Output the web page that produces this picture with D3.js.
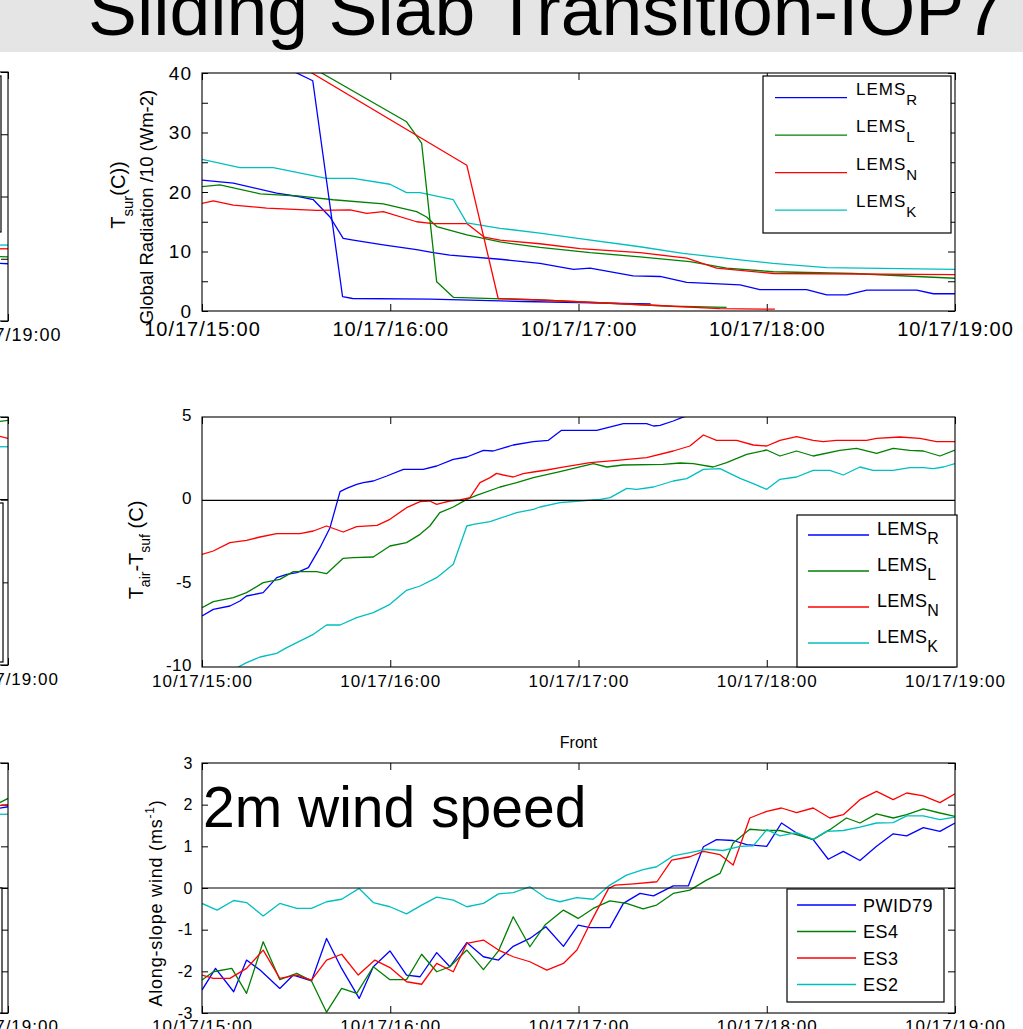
<!DOCTYPE html>
<html><head><meta charset="utf-8">
<script src="https://cdn.jsdelivr.net/npm/d3@7/dist/d3.min.js"></script>
<style>
html,body{margin:0;padding:0;background:#fff;}
svg{display:block;}
text{white-space:pre;}
</style></head>
<body>
<svg id="chart" width="1023" height="1029"></svg>
<script>
// ================= DATA =================
const titleText = "Sliding Slab Transition-IOP7";
const bigNote = "2m wind speed";
const frontTitle = "Front";
const timeTickFormat = "%m/%d/%H:%M";
const seriesColors = ["#0000ff", "#008000", "#ff0000", "#00bfbf"];
const lemsSubs = ["R", "L", "N", "K"];
const windNames = ["PWID79", "ES4", "ES3", "ES2"];
const tsurTicks = [0, 5, 10, 15, 20, 25, 30, 35, 40];
const diffTicks = [-10, -5, 0, 5];
const windTicks = [-3, -2, -1, 0, 1, 2, 3];
const leftTopTicks = [0, 10, 20, 30, 40];

// [minutes after 10/17 15:00, value]
// Panel 1: surface temperature (C)
const tsurR = [[0,22.0],[10,21.5],[23.8,19.8],[31.2,19.2],[35.5,18.7],[40.8,15.8],[45,12.2],[48.2,11.9],[57.8,11.1],[68.4,10.3],[73.7,9.8],[79,9.4],[95,8.7],[107.7,8.0],[118.4,7.0],[123.7,7.2],[137.4,5.9],[146,5.8],[154.5,4.8],[171.5,4.4],[177.8,3.6],[192.7,3.6],[199.1,2.7],[205.5,2.7],[211.9,3.5],[227.8,3.5],[233.1,2.9],[240,2.9]];
const tsurL = [[0,20.9],[5.7,21.2],[18.5,19.7],[31.2,19.3],[41.8,18.7],[57.8,18.0],[68.4,16.7],[71.6,15.8],[74.8,14.2],[84.4,12.8],[95,11.6],[107.7,10.7],[123.7,9.8],[139.6,9.1],[155.5,8.3],[167.2,7.2],[182.1,6.6],[207.6,6.3],[227.8,5.8],[240,5.5]];
const tsurN = [[0,18.1],[3.6,18.5],[10,17.8],[20.6,17.3],[36.6,16.9],[47.2,17.0],[52.5,16.4],[57.8,16.7],[68.4,15.0],[73.7,14.7],[84.4,14.7],[90,12.4],[95,11.9],[107.7,11.3],[120.5,10.5],[139.6,9.8],[154.5,8.9],[164,7.2],[182.1,6.3],[240,6.1]];
const tsurK = [[0,25.5],[12.1,24.1],[22.7,24.1],[39.7,22.3],[48.2,22.3],[59.9,21.3],[65.2,19.9],[69.5,19.9],[80.1,18.7],[84.4,14.8],[95,13.9],[107.7,13.1],[119.8,12.2],[139.6,10.8],[153.3,9.7],[171.5,8.6],[182,8.0],[199.1,7.3],[240,7.0]];
// Panel 1: global radiation / 10 (W m-2)
const radR = [[0,47.7],[35.3,38.7],[44.8,2.4],[48,2.1],[72.7,2.0],[102.4,1.6],[120,1.4],[143,1.2]];
const radL = [[0,51.5],[38.1,40],[65.2,31.8],[70,28.2],[74.8,4.9],[80.1,2.3],[107.7,1.85],[130,1.3],[150,0.8],[167.2,0.6]];
const radN = [[0,51],[35,40],[84.4,24.5],[94.4,2.1],[107.7,1.85],[130,1.3],[150,0.8],[165,0.4],[182.6,0.3]];

// Panel 2: T_air - T_suf (C)
const diffR = [[0,-6.94],[3.6,-6.54],[8.9,-6.34],[12.1,-6.04],[14.2,-5.74],[19.5,-5.54],[23.8,-4.64],[27,-4.44],[30.2,-4.34],[33.9,-4.04],[37.6,-2.84],[40.8,-1.64],[44,0.52],[46.1,0.72],[49.3,0.96],[51.4,1.06],[54.6,1.16],[58.9,1.46],[64.2,1.86],[70.5,1.86],[74.8,2.06],[80.1,2.46],[84.4,2.6],[89.7,3.0],[92.8,2.96],[99.2,3.32],[105.6,3.52],[110.4,3.6],[114.6,4.2],[125.8,4.2],[134.3,4.6],[141.7,4.6],[143.9,4.46],[146,4.5],[150.2,4.76],[152.9,4.96],[160,5.4],[200,6.0],[240,6.5]];
const diffL = [[0,-6.44],[3.6,-6.08],[10,-5.84],[14.2,-5.54],[19.5,-4.94],[24.8,-4.74],[29.1,-4.28],[36.5,-4.28],[39.7,-4.4],[45,-3.48],[48.2,-3.44],[54.6,-3.4],[59.9,-2.74],[65.2,-2.54],[69.5,-2.04],[72.6,-1.54],[75.8,-0.74],[80.1,-0.4],[84.4,0.06],[87.5,0.3],[95,0.8],[100.3,1.06],[105.6,1.36],[114.1,1.72],[119.4,1.96],[124.7,2.2],[129,2.0],[134.2,2.12],[147,2.16],[152.3,2.24],[156.6,2.2],[162.9,2.0],[167.2,2.26],[173.6,2.76],[180,3.02],[184.2,2.66],[189.5,2.96],[194.8,2.66],[203.3,3.0],[208.6,3.12],[215,2.82],[220.3,3.12],[225.6,3.0],[229.9,2.96],[235.2,2.66],[240,3.02]];
const diffN = [[0,-3.24],[3.6,-3.04],[8.9,-2.54],[14.2,-2.4],[18.5,-2.2],[23.8,-2.0],[31.2,-2.0],[35.5,-1.84],[39.7,-1.54],[45,-1.9],[49.3,-1.58],[55.8,-1.5],[59.9,-1.14],[65.2,-0.44],[69.5,-0.08],[72.6,-0.04],[74.8,-0.24],[76.9,-0.14],[79,-0.04],[82.2,0.02],[85.4,0.16],[88.6,1.06],[91.8,1.36],[93.9,1.62],[96,1.52],[99.2,1.4],[102.4,1.6],[105.6,1.7],[109.9,1.82],[114.1,1.96],[123.7,2.26],[132.2,2.4],[141.7,2.56],[150.2,2.96],[155.5,3.26],[159.8,3.92],[164,3.6],[170.4,3.6],[175.7,3.32],[180,3.26],[184.2,3.6],[189.5,3.82],[194.8,3.6],[198,3.52],[202.2,3.6],[211.8,3.6],[215,3.72],[222.4,3.8],[228.8,3.72],[234.1,3.52],[240,3.52]];
const diffK = [[0,-11.2],[11.2,-10.04],[14.2,-9.74],[18.5,-9.4],[23.8,-9.18],[27,-8.84],[35.5,-8.04],[39.7,-7.48],[44,-7.48],[49.3,-7.04],[54.6,-6.74],[59.9,-6.24],[65.2,-5.4],[69.5,-5.14],[74.8,-4.64],[80.1,-3.84],[84.4,-1.54],[86.5,-1.44],[91.8,-1.28],[100.3,-0.74],[105.6,-0.54],[107.7,-0.4],[114.1,-0.14],[120.5,-0.04],[126.9,0.06],[130.1,0.16],[135.4,0.72],[138.6,0.66],[143.9,0.8],[150.2,1.16],[154.5,1.3],[159.8,1.86],[165.1,1.9],[171.5,1.32],[175.7,1.0],[180,0.66],[184.2,1.26],[189.5,1.4],[194.8,1.8],[200.1,1.8],[204.4,1.52],[209.7,2.0],[213.9,1.8],[220.3,1.8],[225.6,1.96],[229.9,1.96],[233.1,1.9],[236.3,2.0],[240,2.2]];

// Panel 3: along-slope wind (m s-1)
const windPWID79 = [[0,-2.45],[4.3,-1.93],[10.1,-2.49],[14.2,-1.73],[18.5,-1.97],[24.8,-2.41],[29.1,-2.09],[34.9,-2.23],[39.7,-1.21],[44.5,-1.93],[50.1,-2.65],[54.6,-1.89],[59.9,-1.51],[65.2,-2.09],[69.5,-2.13],[74.8,-1.55],[79,-1.89],[84.4,-1.31],[89.7,-1.65],[94.5,-1.73],[99.2,-1.4],[104.5,-1.21],[109.6,-0.93],[115.2,-1.4],[119.9,-0.89],[123.7,-0.95],[130,-0.95],[134.3,-0.37],[139.6,-0.13],[143.9,-0.19],[150.2,0.05],[155,0.05],[159.8,0.99],[164,1.16],[169.3,1.14],[173.6,1.04],[180,1.0],[184.7,1.56],[189.5,1.32],[194.8,1.16],[199.6,0.69],[204.4,0.88],[209.7,0.66],[215,1.0],[220.3,1.3],[224.6,1.25],[229.9,1.45],[235.2,1.36],[240,1.56]];
const windES4 = [[0,-2.21],[3.6,-2.01],[9.5,-1.93],[14.2,-2.53],[19.5,-1.29],[24.8,-2.2],[30.2,-2.05],[34.9,-2.23],[39.7,-2.98],[44.5,-2.41],[49.3,-2.53],[54.6,-1.89],[59.9,-2.2],[65.2,-2.2],[70,-1.59],[74.8,-2.01],[79,-1.89],[84.4,-1.49],[89.7,-1.96],[94.5,-1.51],[99.2,-0.69],[104.5,-1.41],[109.3,-0.89],[115.2,-0.53],[119.9,-0.73],[124.7,-0.49],[130,-0.31],[135.3,-0.37],[140.6,-0.5],[144.9,-0.41],[150.2,-0.13],[155.5,-0.05],[160.8,0.19],[165.1,0.35],[169.3,1.08],[174.6,1.41],[180,1.38],[184.2,1.38],[189.5,1.28],[194.8,1.16],[200.1,1.4],[205.4,1.68],[209.7,1.56],[215,1.78],[220.3,1.68],[224.6,1.76],[229.9,1.9],[235.2,1.8],[240,1.72]];
const windES3 = [[0,-2.09],[3.6,-2.17],[8.9,-2.17],[14.2,-1.93],[19.5,-1.49],[24.8,-2.17],[30.2,-2.09],[34.9,-2.21],[39.7,-1.73],[44.5,-1.59],[49.8,-2.09],[55.1,-1.73],[59.9,-1.91],[65.2,-2.25],[70,-2.31],[74.8,-1.81],[80.1,-2.01],[84.4,-1.33],[89.7,-1.25],[94.5,-1.49],[99.2,-1.65],[104.5,-1.77],[109.9,-1.97],[115.2,-1.81],[119.5,-1.49],[123.7,-0.85],[129.6,-0.01],[131.7,0.07],[137.6,0.1],[145,0.15],[149.7,0.67],[155.5,0.75],[159.8,0.88],[165.1,0.8],[169.3,0.55],[174.6,1.68],[180,1.84],[184.7,1.92],[189.5,1.81],[194.8,1.92],[200.1,1.68],[204.4,1.76],[209.7,2.12],[215,2.32],[220.3,2.12],[224.6,2.28],[229.9,2.21],[235.2,2.05],[240,2.26]];
const windES2 = [[0,-0.37],[4.8,-0.53],[10.1,-0.3],[14.2,-0.35],[19.5,-0.67],[24.8,-0.37],[30.2,-0.49],[34.9,-0.49],[39.7,-0.33],[44.5,-0.27],[50.1,-0.01],[54.6,-0.35],[59.9,-0.45],[65.2,-0.62],[70,-0.41],[74.8,-0.22],[80.1,-0.29],[84.4,-0.45],[89.7,-0.37],[94.5,-0.14],[99.2,-0.11],[104.5,0.03],[109.9,-0.25],[114.1,-0.33],[119.4,-0.23],[124.7,-0.27],[130,0.07],[135.3,0.31],[140.6,0.44],[144.9,0.51],[150.2,0.77],[155.5,0.85],[160.8,0.93],[166.1,0.9],[171.5,1.0],[175.7,1.01],[180,1.4],[184.2,1.25],[189.5,1.33],[194.8,1.17],[199,1.36],[204.4,1.38],[209.7,1.46],[215,1.56],[220.3,1.57],[224.6,1.73],[229.9,1.73],[235.2,1.64],[240,1.7]];

// Left-hand (cropped) panels: only their last minutes are visible
const leftTopR = [[232,9.4],[240,9.2]];
const leftTopL = [[232,10.4],[240,10.3]];
const leftTopN = [[232,11.6],[240,11.6]];
const leftTopK = [[232,12.2],[240,12.2]];
const leftMidL = [[232,4.6],[240,4.8]];
const leftMidN = [[232,4.1],[240,3.7]];
const leftMidK = [[232,3.2],[240,3.2]];
const leftBotR = [[232,1.85],[240,1.95]];
const leftBotL = [[232,1.85],[240,2.15]];
const leftBotN = [[232,1.95],[240,2.0]];
const leftBotK = [[232,1.77],[240,1.77]];

// ================= DRAWING =================
const svg = d3.select("#chart");
const FONT = "'Liberation Sans', Arial, Helvetica, sans-serif";
const base = new Date(2012, 9, 17, 15, 0, 0);
const toDate = m => new Date(base.getTime() + m * 60000);
let clipCount = 0;

svg.append("rect").attr("width", 1023).attr("height", 1029).attr("fill", "#fff");

function drawPanel(o) {
  const x = d3.scaleTime().domain([toDate(0), toDate(240)]).range([o.x0, o.x1]);
  const y = d3.scaleLinear().domain(o.yDomain).range([o.y1, o.y0]);
  const g = svg.append("g");
  const cid = "clip" + (clipCount++);
  g.append("clipPath").attr("id", cid).append("rect")
    .attr("x", o.x0).attr("y", o.y0).attr("width", o.x1 - o.x0).attr("height", o.y1 - o.y0);
  const fmt = d3.timeFormat(timeTickFormat);
  const hours = d3.timeHour.every(1);
  const blank = () => "";

  const xb = g.append("g").attr("transform", `translate(0,${o.y1})`)
    .call(d3.axisBottom(x).ticks(hours).tickFormat(fmt).tickSizeInner(-7).tickSizeOuter(0).tickPadding(o.xPad));
  xb.selectAll("text").attr("font-family", FONT).attr("font-size", o.xFont)
    .attr("letter-spacing", o.xLs).attr("fill", "#000");
  g.append("g").attr("transform", `translate(0,${o.y0})`)
    .call(d3.axisTop(x).ticks(hours).tickFormat(blank).tickSizeInner(-7).tickSizeOuter(0));

  const yl = g.append("g").attr("transform", `translate(${o.x0},0)`)
    .call(d3.axisLeft(y).tickValues(o.yTicks).tickFormat(o.yFormat || (d => d))
      .tickSizeInner(-o.yTickLen).tickSizeOuter(0).tickPadding(o.yPad));
  yl.selectAll("text").attr("font-family", FONT).attr("font-size", o.yFont)
    .attr("letter-spacing", o.yLs || 0).attr("fill", "#000").attr("dy", o.yDy || "0.32em");
  if (o.yTickLen === 0) yl.selectAll(".tick line").remove();
  g.append("g").attr("transform", `translate(${o.x1},0)`)
    .call(d3.axisRight(y).tickValues(o.rightTicks).tickFormat(blank).tickSizeInner(-7).tickSizeOuter(0));
  g.selectAll(".domain").remove();
  g.selectAll(".tick line").attr("stroke", "#000");

  const line = d3.line().x(d => x(toDate(d[0]))).y(d => y(d[1]));
  const lg = g.append("g").attr("clip-path", `url(#${cid})`);
  o.series.forEach(s => {
    lg.append("path").datum(s.data).attr("d", line).attr("fill", "none")
      .attr("stroke", s.color).attr("stroke-width", 1.3).attr("stroke-linejoin", "round");
  });
  if (o.zero) {
    g.append("line").attr("x1", o.x0).attr("x2", o.x1).attr("y1", y(0)).attr("y2", y(0))
      .attr("stroke", "#000").attr("stroke-width", 1.2);
  }
  g.append("rect").attr("x", o.x0).attr("y", o.y0).attr("width", o.x1 - o.x0).attr("height", o.y1 - o.y0)
    .attr("fill", "none").attr("stroke", "#000").attr("stroke-width", 1.1);
  return { x, y, g };
}

function drawLegend(o) {
  const g = svg.append("g");
  g.append("rect").attr("x", o.x).attr("y", o.y).attr("width", o.w).attr("height", o.h)
    .attr("fill", "#fff").attr("stroke", "#000").attr("stroke-width", 1.2);
  (o.entries || []).forEach((e, i) => {
    const ly = o.firstY + i * o.step;
    g.append("line").attr("x1", o.lx0).attr("x2", o.lx1).attr("y1", ly).attr("y2", ly)
      .attr("stroke", e.color).attr("stroke-width", 1.3);
    const t = g.append("text").attr("x", o.tx).attr("y", ly + o.tdy)
      .attr("font-family", FONT).attr("font-size", o.font).attr("letter-spacing", o.ls).attr("fill", "#000");
    t.append("tspan").text(e.label);
    if (e.sub) t.append("tspan").attr("dy", o.subDy).attr("font-size", o.subFont).text(e.sub);
  });
}

// ---- title band ----
svg.append("rect").attr("x", 0).attr("y", 0).attr("width", 1023).attr("height", 52).attr("fill", "#e5e5e5");
svg.append("text").attr("x", 88).attr("y", 35).attr("font-family", FONT).attr("font-size", 73)
  .attr("textLength", 917).attr("lengthAdjust", "spacingAndGlyphs")
  .attr("fill", "#000").text(titleText);

// ---- left cropped column ----
drawPanel({ x0: -745, x1: 8, y0: 72, y1: 321, yDomain: [0, 40], yTicks: leftTopTicks, rightTicks: leftTopTicks,
  yTickLen: 7, yPad: 10, yFont: 18, xPad: 7, xFont: 18, xLs: 1,
  series: [{ data: leftTopR, color: seriesColors[0] }, { data: leftTopL, color: seriesColors[1] },
           { data: leftTopN, color: seriesColors[2] }, { data: leftTopK, color: seriesColors[3] }] });
drawLegend({ x: -190, y: 76, w: 191, h: 156 });
drawPanel({ x0: -745, x1: 8, y0: 417, y1: 665, yDomain: [-10, 5], yTicks: diffTicks, rightTicks: diffTicks,
  yTickLen: 7, yPad: 10, yFont: 17, xPad: 8, xFont: 17, xLs: 1, zero: true,
  series: [{ data: leftMidL, color: seriesColors[1] }, { data: leftMidN, color: seriesColors[2] },
           { data: leftMidK, color: seriesColors[3] }] });
drawLegend({ x: -157, y: 503, w: 160, h: 159 });
drawPanel({ x0: -745, x1: 8, y0: 763, y1: 1013, yDomain: [-3, 3], yTicks: windTicks, rightTicks: windTicks,
  yTickLen: 7, yPad: 10, yFont: 16, xPad: 7, xFont: 17, xLs: 1, zero: true,
  series: [{ data: leftBotR, color: seriesColors[0] }, { data: leftBotL, color: seriesColors[1] },
           { data: leftBotN, color: seriesColors[2] }, { data: leftBotK, color: seriesColors[3] }] });
drawLegend({ x: -155, y: 888, w: 157, h: 125 });

// ---- Panel 1 ----
drawPanel({ x0: 202, x1: 955, y0: 73, y1: 311, yDomain: [0, 40], yTicks: tsurTicks, rightTicks: tsurTicks,
  yFormat: d => (d % 10 === 0 ? d : ""), yTickLen: 6, yPad: 10, yFont: 19, yLs: 1,
  xPad: 11, xFont: 20, xLs: 1,
  series: [{ data: tsurR, color: seriesColors[0] }, { data: tsurL, color: seriesColors[1] },
           { data: tsurN, color: seriesColors[2] }, { data: tsurK, color: seriesColors[3] },
           { data: radR, color: seriesColors[0] }, { data: radL, color: seriesColors[1] },
           { data: radN, color: seriesColors[2] }] });
drawLegend({ x: 763, y: 76, w: 188, h: 157, firstY: 97.7, step: 37.5, lx0: 775, lx1: 847, tx: 856, tdy: -3,
  font: 17, ls: 1, subFont: 15, subDy: 10,
  entries: lemsSubs.map((s, i) => ({ label: "LEMS", sub: s, color: seriesColors[i] })) });

// y label panel 1 (two lines)
const yl1a = svg.append("text").attr("transform", "translate(125,195) rotate(-90)").attr("text-anchor", "middle")
  .attr("font-family", FONT).attr("font-size", 20).attr("fill", "#000");
yl1a.append("tspan").text("T");
yl1a.append("tspan").attr("dy", 8).attr("font-size", 15).text("sur");
yl1a.append("tspan").attr("dy", -8).text("(C))");
svg.append("text").attr("transform", "translate(153,207) rotate(-90)").attr("text-anchor", "middle")
  .attr("font-family", FONT).attr("font-size", 18.5).attr("fill", "#000").text("Global Radiation /10 (Wm-2)");

// ---- Panel 2 ----
drawPanel({ x0: 202, x1: 955, y0: 417, y1: 667, yDomain: [-10, 5], yTicks: diffTicks, rightTicks: [],
  yTickLen: 0, yPad: 10, yFont: 17, yLs: 0.5, yDy: "0.2em", xPad: 8, xFont: 17, xLs: 1, zero: true,
  series: [{ data: diffR, color: seriesColors[0] }, { data: diffL, color: seriesColors[1] },
           { data: diffN, color: seriesColors[2] }, { data: diffK, color: seriesColors[3] }] });
drawLegend({ x: 797, y: 515, w: 160, h: 152, firstY: 535, step: 36, lx0: 808, lx1: 869, tx: 877, tdy: 0,
  font: 18, ls: 0.3, subFont: 16, subDy: 9,
  entries: lemsSubs.map((s, i) => ({ label: "LEMS", sub: s, color: seriesColors[i] })) });
const yl2 = svg.append("text").attr("transform", "translate(143,550) rotate(-90)").attr("text-anchor", "middle")
  .attr("font-family", FONT).attr("font-size", 20).attr("fill", "#000");
yl2.append("tspan").text("T");
yl2.append("tspan").attr("dy", 7).attr("font-size", 14).text("air");
yl2.append("tspan").attr("dy", -7).text("-T");
yl2.append("tspan").attr("dy", 7).attr("font-size", 14).text("suf");
yl2.append("tspan").attr("dy", -7).text(" (C)");

// ---- Panel 3 ----
drawPanel({ x0: 202, x1: 955, y0: 763, y1: 1013, yDomain: [-3, 3], yTicks: windTicks, rightTicks: windTicks,
  yTickLen: 6, yPad: 9, yFont: 16, yLs: 0.5, xPad: 7, xFont: 17, xLs: 1, zero: true,
  series: [{ data: windPWID79, color: seriesColors[0] }, { data: windES4, color: seriesColors[1] },
           { data: windES3, color: seriesColors[2] }, { data: windES2, color: seriesColors[3] }] });
drawLegend({ x: 787, y: 889, w: 157, h: 113, firstY: 905, step: 26.5, lx0: 797, lx1: 856, tx: 863, tdy: 6.5,
  font: 18, ls: 0.5,
  entries: windNames.map((n, i) => ({ label: n, color: seriesColors[i] })) });
svg.append("text").attr("x", 578.5).attr("y", 748).attr("text-anchor", "middle")
  .attr("font-family", FONT).attr("font-size", 16).attr("fill", "#000").text(frontTitle);
svg.append("text").attr("x", 203).attr("y", 827).attr("font-family", FONT).attr("font-size", 57)
  .attr("fill", "#000").text(bigNote);
const yl3 = svg.append("text").attr("transform", "translate(162,903) rotate(-90)").attr("text-anchor", "middle")
  .attr("font-family", FONT).attr("font-size", 18).attr("letter-spacing", 0.8).attr("fill", "#000");
yl3.append("tspan").text("Along-slope wind (ms");
yl3.append("tspan").attr("dy", -8).attr("font-size", 12).text("-1");
yl3.append("tspan").attr("dy", 8).text(")");

// drop texts of the cropped left column that fall wholly outside the picture
svg.selectAll("text").each(function () {
  const r = this.getBoundingClientRect();
  if (r.right <= 0 || r.left >= 1023 || r.bottom <= 0 || r.top >= 1029) d3.select(this).remove();
});
</script>
</body></html>
